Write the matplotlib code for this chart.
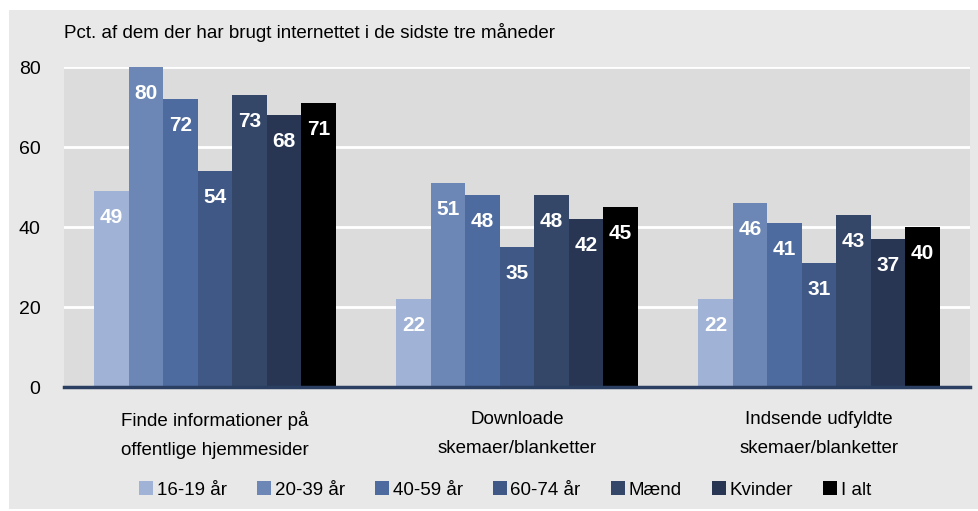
import matplotlib.pyplot as plt
import numpy as np
from matplotlib.patches import Rectangle

plt.rcParams['font.family'] = ['Liberation Sans', 'DejaVu Sans']

categories = ['Finde informationer på\noffentlige hjemmesider',
              'Downloade\nskemaer/blanketter',
              'Indsende udfyldte\nskemaer/blanketter']
series = ['16-19 år', '20-39 år', '40-59 år', '60-74 år', 'Mænd', 'Kvinder', 'I alt']
values = [
    [49, 22, 22],   # 16-19 år
    [80, 51, 46],   # 20-39 år
    [72, 48, 41],   # 40-59 år
    [54, 35, 31],   # 60-74 år
    [73, 48, 43],   # Mænd
    [68, 42, 37],   # Kvinder
    [71, 45, 40],   # I alt
]
colors = ['#a0b2d5', '#6c87b6', '#4e6b9f', '#405886', '#344769', '#283654', '#000000']
yticks = [0, 20, 40, 60, 80]

fig = plt.figure(figsize=(9.79, 5.11), dpi=100, facecolor='white')
# grey panel behind everything
fig.patches.append(Rectangle((9 / 979, 2 / 511), 1, 499 / 511, transform=fig.transFigure,
                             facecolor='#e8e8e8', edgecolor='none', zorder=-10))

ax = fig.add_axes([64 / 979, 124 / 511, 906 / 979, 320 / 511])
ax.set_facecolor('#dcdcdc')

x = np.arange(len(categories))
n = len(series)
width = 0.8 / n

for i, (name, vals) in enumerate(zip(series, values)):
    pos = x - 0.4 + width * (i + 0.5)
    bars = ax.bar(pos, vals, width, color=colors[i], label=name, zorder=3)
    for b, v in zip(bars, vals):
        ax.annotate(str(v), (b.get_x() + b.get_width() / 2, v), xytext=(0, -19),
                    textcoords='offset points', ha='center', va='center',
                    color='white', fontsize=15, fontweight='bold', zorder=4)

ax.set_xlim(-0.5, len(categories) - 0.5)
ax.set_ylim(0, 80)
ax.set_yticks(yticks)
ax.set_xticks(x)
ax.set_xticklabels(categories, fontsize=13.5, linespacing=1.95)
ax.tick_params(axis='both', length=0)
ax.tick_params(axis='y', pad=17, labelsize=14)
ax.tick_params(axis='x', pad=17)
ax.grid(axis='y', color='white', linewidth=2, zorder=1)
ax.set_axisbelow(True)
for s in ['left', 'right', 'top']:
    ax.spines[s].set_visible(False)
ax.spines['bottom'].set_color('#2b3f63')
ax.spines['bottom'].set_linewidth(2.5)
ax.spines['bottom'].set_zorder(5)

fig.text(64 / 979, 1 - 33 / 511, 'Pct. af dem der har brugt internettet i de sidste tre måneder',
         fontsize=13.5, ha='left', va='center')

fig.legend(loc='center', bbox_to_anchor=(505 / 979, 1 - 490 / 511), ncol=7, frameon=False,
           fontsize=13.5, handlelength=0.75, handleheight=0.75, handletextpad=0.2,
           columnspacing=1.6)

fig.savefig('out.png', dpi=100, facecolor=fig.get_facecolor())
